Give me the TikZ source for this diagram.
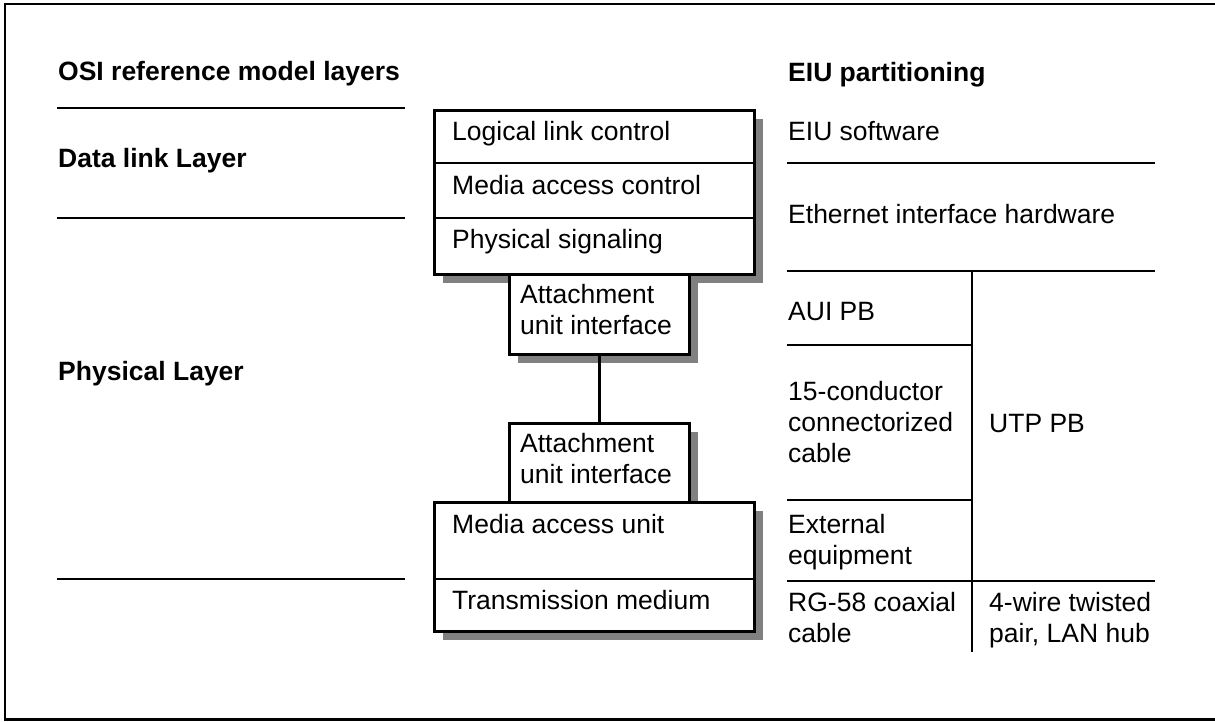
\documentclass[tikz,border=0pt]{standalone}
\usepackage{fontspec}
\setmainfont{Liberation Sans}
\usetikzlibrary{shadows}
\definecolor{shadowgray}{RGB}{128,128,128}
\newcommand{\mlines}[1]{\begin{tabular}[t]{@{}l@{}}#1\end{tabular}}
\begin{document}
\begin{tikzpicture}[x=1pt,y=-1pt,
  lbl/.style={anchor=base west, inner sep=0pt, font=\fontsize{26.5pt}{31pt}\selectfont},
  head/.style={lbl, font=\fontsize{26.5pt}{31pt}\selectfont\bfseries},
  frame/.style={draw, line width=2.7pt, fill=white, inner sep=0pt, anchor=north west,
    drop shadow={shadow xshift=9pt, shadow yshift=-9pt, fill=shadowgray, opacity=1}},
  thin/.style={line width=1.5pt},
  conn/.style={line width=3.5pt}]
\useasboundingbox (0,0) rectangle (1215,721);
% outer frame
\draw[line width=2.6pt] (1220,4) -- (5,4) -- (5,719.5) -- (1220,719.5);

% boxes
\node[frame, minimum width=320pt, minimum height=164pt] (dll) at (433,109) {};
\draw[thin] (433,163) -- (753,163);
\draw[thin] (433,218) -- (753,218);
\node[frame, minimum width=180pt, minimum height=80pt] (aui1) at (508,273) {};
\node[frame, minimum width=180pt, minimum height=79pt] (aui2) at (508,422) {};
\node[frame, minimum width=320pt, minimum height=129pt] (mau) at (433,501) {};
\draw[thin] (433,579) -- (753,579);
\draw[conn] (aui1.south) -- (aui2.north);

% box texts
\node[lbl] (llc) at (452,140) {Logical link control};
\node[lbl] (mac) at (452,194) {Media access control};
\node[lbl] (ps) at (452,248) {Physical signaling};
\node[lbl] (a1) at (520,303) {\mlines{Attachment\\unit interface}};
\node[lbl] (a2) at (520,452) {\mlines{Attachment\\unit interface}};
\node[lbl] (mu) at (452,533) {Media access unit};
\node[lbl] (tm) at (452,609) {Transmission medium};

% left column
\node[head] (osi) at (58,80) {OSI reference model layers};
\draw[thin] (57,108) -- (405,108);
\node[head] (dl) at (58,167) {Data link Layer};
\draw[thin] (57,218) -- (405,218);
\node[head] (phy) at (58,380) {Physical Layer};
\draw[thin] (57,579) -- (405,579);

% right column
\node[head] (eiu) at (788,81) {EIU partitioning};
\node[lbl] (sw) at (788,140) {EIU software};
\draw[thin] (787,163) -- (1155,163);
\node[lbl] (hw) at (788,223) {Ethernet interface hardware};
\draw[thin] (787,271) -- (1155,271);
\node[lbl] (auipb) at (788,320) {AUI PB};
\draw[thin] (787,345) -- (972,345);
\node[lbl] (cond) at (788,400) {\mlines{15-conductor\\connectorized\\cable}};
\node[lbl] (utp) at (989,432) {UTP PB};
\draw[thin] (787,500) -- (972,500);
\node[lbl] (ext) at (788,533) {\mlines{External\\equipment}};
\draw[thin] (787,581) -- (1155,581);
\node[lbl] (rg) at (788,611) {\mlines{RG-58 coaxial\\cable}};
\node[lbl] (tp) at (989,611) {\mlines{4-wire twisted\\pair, LAN hub}};
\draw[thin] (972,271) -- (972,652);
\end{tikzpicture}
\end{document}
